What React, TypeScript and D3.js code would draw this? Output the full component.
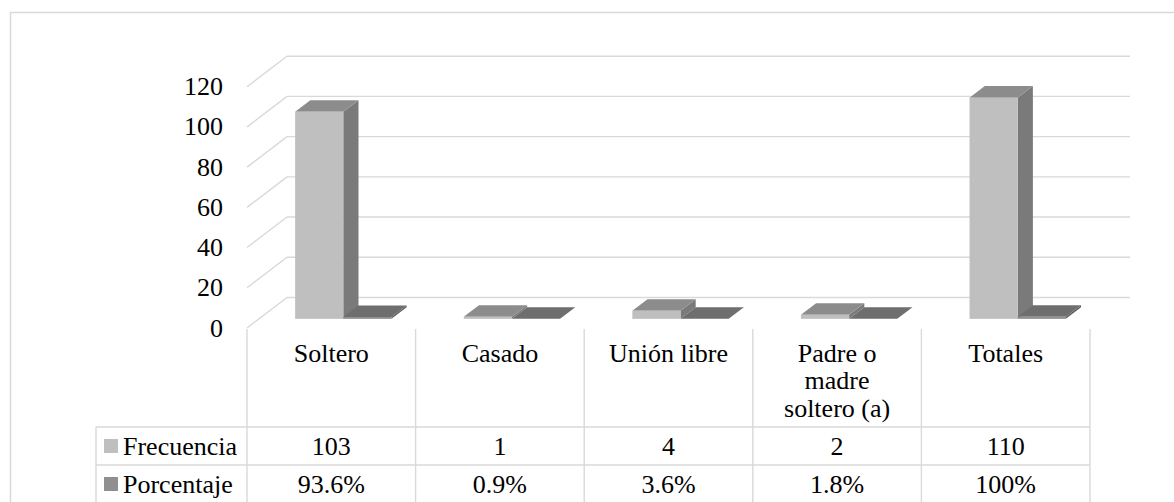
import * as d3 from 'd3';

// categories (multi-line labels split on \n)
const categories = ['Soltero', 'Casado', 'Unión libre', 'Padre o\nmadre\nsoltero (a)', 'Totales'];
const seriesNames = ['Frecuencia', 'Porcentaje'];
const frecuencia = [103, 1, 4, 2, 110];
const porcentaje = [0.936, 0.009, 0.036, 0.018, 1];
const yTicks = [0, 20, 40, 60, 80, 100, 120];

const shades = [
  { front: '#bfbfbf', top: '#8c8c8c', side: '#7a7a7a', legend: '#bfbfbf' },
  { front: '#8f8f8f', top: '#6e6e6e', side: '#5e5e5e', legend: '#8f8f8f' },
];

const W = 1174;
const H = 502;
const GRID = '#d9d9d9';
const serif = { fontFamily: "'Liberation Serif'" };

// plot geometry: front plane + depth vector of the 3d box
const plotLeft = 247;
const plotRight = 1090;
const depth = { x: 40, y: -30.5 };
const f1 = 0.3; // bar front at this fraction of depth
const f2 = 0.68; // bar back

const fmtPct = (v: number) => (v === 1 ? '100%' : d3.format('.1%')(v));

export default function App() {
  const y = d3.scaleLinear().domain([0, 120]).range([328, 86.7]);
  const x = d3.scaleBand<string>().domain(categories).range([plotLeft, plotRight]);
  const band = x.bandwidth();
  const inner = d3
    .scaleBand<string>()
    .domain(seriesNames)
    .range([0, band])
    .paddingInner(0)
    .paddingOuter(0.75);

  const values = [frecuencia, porcentaje];
  const pts = (arr: [number, number][]) => arr.map((p) => p.join(',')).join(' ');

  const bars: JSX.Element[] = [];
  categories.forEach((c, i) => {
    seriesNames.forEach((s, j) => {
      const v = values[j][i];
      const xa = x(c)! + inner(s)!;
      const xb = xa + inner.bandwidth();
      const y0 = y(0);
      const yt = y(v);
      const o1 = { x: depth.x * f1, y: depth.y * f1 };
      const o2 = { x: depth.x * f2, y: depth.y * f2 };
      const col = shades[j];
      bars.push(
        <g key={`${c}-${s}`}>
          <polygon
            points={pts([
              [xb + o1.x, y0 + o1.y],
              [xb + o1.x, yt + o1.y],
              [xb + o2.x, yt + o2.y],
              [xb + o2.x, y0 + o2.y],
            ])}
            fill={col.side}
          />
          <polygon
            points={pts([
              [xa + o1.x, yt + o1.y],
              [xb + o1.x, yt + o1.y],
              [xb + o2.x, yt + o2.y],
              [xa + o2.x, yt + o2.y],
            ])}
            fill={col.top}
          />
          <rect x={xa + o1.x} y={yt + o1.y} width={xb - xa} height={Math.max(0, y0 - yt)} fill={col.front} />
        </g>
      );
    });
  });

  const tableTop = 329;
  const rowLines = [427, 465];
  const rowBase = [455, 493];
  const tableLeft = 96;

  return (
    <svg width={W} height={H} style={{ position: 'fixed', left: 0, top: 0, background: '#fff' }}>
      <rect x={10.5} y={12.5} width={1300} height={700} fill="#fff" stroke={GRID} strokeWidth={1.5} />

      {/* back wall gridlines + side diagonals */}
      {yTicks.map((t) => (
        <g key={t} stroke={GRID} strokeWidth={1.4}>
          <line x1={plotLeft + depth.x} x2={plotRight + depth.x} y1={y(t) + depth.y} y2={y(t) + depth.y} />
          <line x1={plotLeft} x2={plotLeft + depth.x} y1={y(t)} y2={y(t) + depth.y} />
        </g>
      ))}

      {yTicks.map((t) => (
        <text key={t} x={223} y={y(t) + 8.5} textAnchor="end" fontSize={26} style={serif}>
          {t}
        </text>
      ))}

      {bars}

      {/* data table */}
      <g stroke={GRID} strokeWidth={1.4}>
        {d3.range(categories.length + 1).map((k) => (
          <line key={k} x1={plotLeft + k * band} x2={plotLeft + k * band} y1={tableTop} y2={H} />
        ))}
        <line x1={tableLeft} x2={tableLeft} y1={rowLines[0]} y2={H} />
        {rowLines.map((ly) => (
          <line key={ly} x1={tableLeft} x2={plotRight} y1={ly} y2={ly} />
        ))}
      </g>

      {categories.map((c) => (
        <text key={c} textAnchor="middle" fontSize={26} style={serif}>
          {c.split('\n').map((ln, k) => (
            <tspan key={k} x={x(c)! + band / 2} y={361.5 + k * 27.5}>
              {ln}
            </tspan>
          ))}
        </text>
      ))}

      {seriesNames.map((s, j) => (
        <g key={s}>
          <rect x={104} y={rowBase[j] - 16} width={14} height={14} fill={shades[j].legend} />
          <text x={123} y={rowBase[j]} fontSize={26} style={serif}>
            {s}
          </text>
          {categories.map((c, i) => (
            <text key={c} x={x(c)! + band / 2} y={rowBase[j]} textAnchor="middle" fontSize={26} style={serif}>
              {j === 0 ? frecuencia[i] : fmtPct(porcentaje[i])}
            </text>
          ))}
        </g>
      ))}
    </svg>
  );
}
